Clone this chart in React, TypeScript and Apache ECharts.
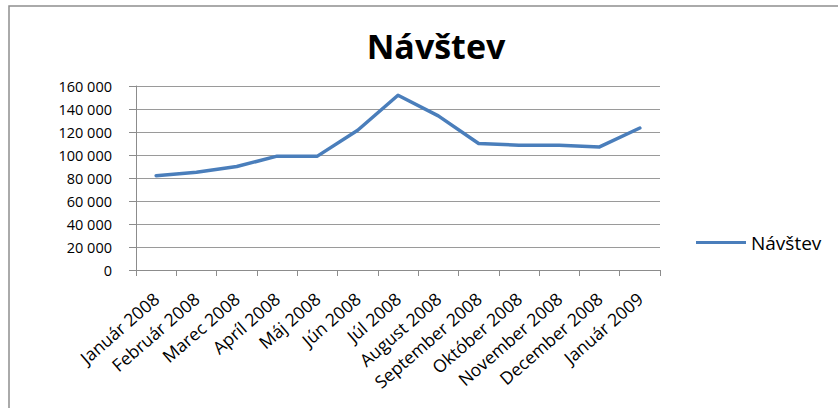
import React, { useEffect, useRef } from "react";
import * as echarts from "echarts";

const categories = [
  "Január 2008", "Február 2008", "Marec 2008", "Apríl 2008", "Máj 2008", "Jún 2008",
  "Júl 2008", "August 2008", "September 2008", "Október 2008", "November 2008",
  "December 2008", "Január 2009",
];
const visits = [82000, 85000, 90000, 99000, 99000, 121500, 152000, 134000, 110000, 108500, 108500, 107000, 123500];
const seriesName = "Návštev";
const titleText = "Návštev";

const fmt = (v: number) => String(v).replace(/\B(?=(\d{3})+(?!\d))/g, " ");

export default function App() {
  const ref = useRef<HTMLDivElement>(null);
  useEffect(() => {
    if (!ref.current) return;
    const chart = echarts.init(ref.current, undefined, { renderer: "svg" });
    chart.setOption({
      animation: false,
      backgroundColor: "#ffffff",
      title: {
        text: titleText,
        left: 431,
        textAlign: "center",
        top: 24,
        textStyle: { fontFamily: "Open Sans", fontWeight: "bold", fontSize: 34, color: "#000" },
      },
      graphic: [
        {
          type: "rect",
          shape: { x: 9, y: 6, width: 840, height: 410 },
          style: { fill: "none", stroke: "#8f8f8f", lineWidth: 1.5 },
          silent: true,
        },
      ],
      legend: {
        data: [seriesName],
        left: 691,
        top: 228,
        itemWidth: 50,
        itemHeight: 18,
        icon: "path://M0,8 L50,8 L50,11 L0,11 Z",
        textStyle: { fontFamily: "Open Sans", fontSize: 19, color: "#000" },
      },
      grid: { left: 136, right: 178, top: 86, bottom: 138 },
      xAxis: {
        type: "category",
        data: categories,
        boundaryGap: true,
        axisLine: { lineStyle: { color: "#8c8c8c", width: 1 } },
        axisTick: { show: true, length: 6, lineStyle: { color: "#8c8c8c" } },
        axisLabel: {
          rotate: 41,
          interval: 0,
          margin: 26,
          fontFamily: "Open Sans",
          fontSize: 17.5,
          color: "#000",
        },
      },
      yAxis: {
        type: "value",
        min: 0,
        max: 160000,
        interval: 20000,
        axisLine: { show: true, lineStyle: { color: "#8c8c8c", width: 1 } },
        axisTick: { show: true, length: 7, lineStyle: { color: "#8c8c8c" } },
        splitLine: { lineStyle: { color: "#9a9a9a", width: 1 } },
        axisLabel: {
          formatter: (v: number) => fmt(v),
          margin: 24,
          fontFamily: "Open Sans",
          fontSize: 14.5,
          color: "#000",
        },
      },
      series: [
        {
          name: seriesName,
          type: "line",
          data: visits,
          symbol: "none",
          lineStyle: { color: "#4a7ebb", width: 3.5, join: "round", cap: "round" },
          itemStyle: { color: "#4a7ebb" },
        },
      ],
    });
    return () => chart.dispose();
  }, []);
  return (
    <div
      ref={ref}
      style={{ position: "fixed", left: 0, top: 0, width: 838, height: 408, background: "#fff" }}
    />
  );
}
